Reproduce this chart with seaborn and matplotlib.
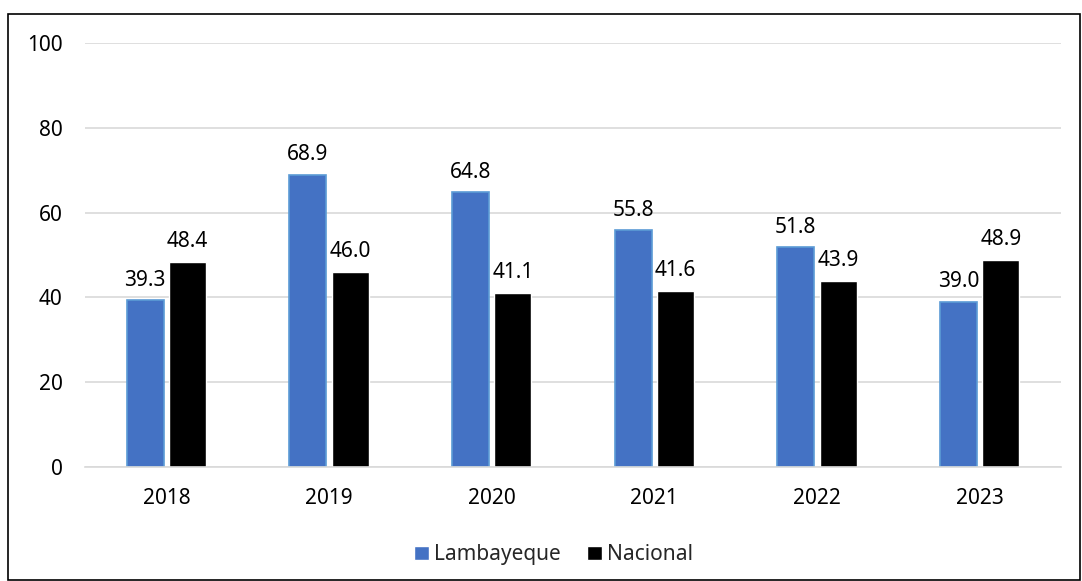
import matplotlib
matplotlib.use("Agg")
import matplotlib.pyplot as plt
import seaborn as sns
import pandas as pd
from matplotlib.patches import Rectangle

years = ["2018", "2019", "2020", "2021", "2022", "2023"]
lambayeque = [39.3, 68.9, 64.8, 55.8, 51.8, 39.0]
nacional = [48.4, 46.0, 41.1, 41.6, 43.9, 48.9]

df = pd.DataFrame({
    "year": years * 2,
    "value": lambayeque + nacional,
    "serie": ["Lambayeque"] * 6 + ["Nacional"] * 6,
})

sns.set_theme(style="white")
plt.rcParams["font.family"] = ["Noto Sans", "DejaVu Sans"]

fig = plt.figure(figsize=(10.82, 5.81), dpi=100)
ax = fig.add_axes([85 / 1082, 114 / 581, 976 / 1082, 424 / 581])

palette = {"Lambayeque": "#4472C4", "Nacional": "#000000"}
sns.barplot(data=df, x="year", y="value", hue="serie", palette=palette,
            width=0.52, gap=0.12, ax=ax, saturation=1, legend=True)

for cont in ax.containers:
    for bar in cont:
        if bar.get_facecolor()[2] > 0.5:
            bar.set_edgecolor("#5B9BD5")
            bar.set_linewidth(1.2)
    ax.bar_label(cont, fmt="%.1f", padding=7, fontsize=15, color="#000000")

ax.set_ylim(0, 100)
ax.set_yticks(range(0, 101, 20))
ax.yaxis.grid(True, color="#D9D9D9", linewidth=1.2)
ax.set_axisbelow(True)
for s in ["left", "right", "top"]:
    ax.spines[s].set_visible(False)
ax.spines["bottom"].set_color("#D9D9D9")
ax.spines["bottom"].set_linewidth(1.2)
ax.tick_params(axis="y", length=0, labelsize=15, colors="#000000", pad=16)
ax.tick_params(axis="x", length=0, labelsize=15, colors="#000000", pad=15)
ax.set_xlabel("")
ax.set_ylabel("")

handles, labels = ax.get_legend_handles_labels()
ax.legend(handles, labels, loc="center", bbox_to_anchor=(0.48, -0.207), ncol=2,
          frameon=False, fontsize=15, handlelength=0.72, handleheight=0.72,
          handletextpad=0.25, columnspacing=1.25)

fig.patches.append(Rectangle((8 / 1082, 1 / 581), 1072 / 1082, 566 / 581,
                             transform=fig.transFigure, fill=False,
                             edgecolor="#000000", linewidth=1.2))

fig.savefig("out.png", dpi=100)
